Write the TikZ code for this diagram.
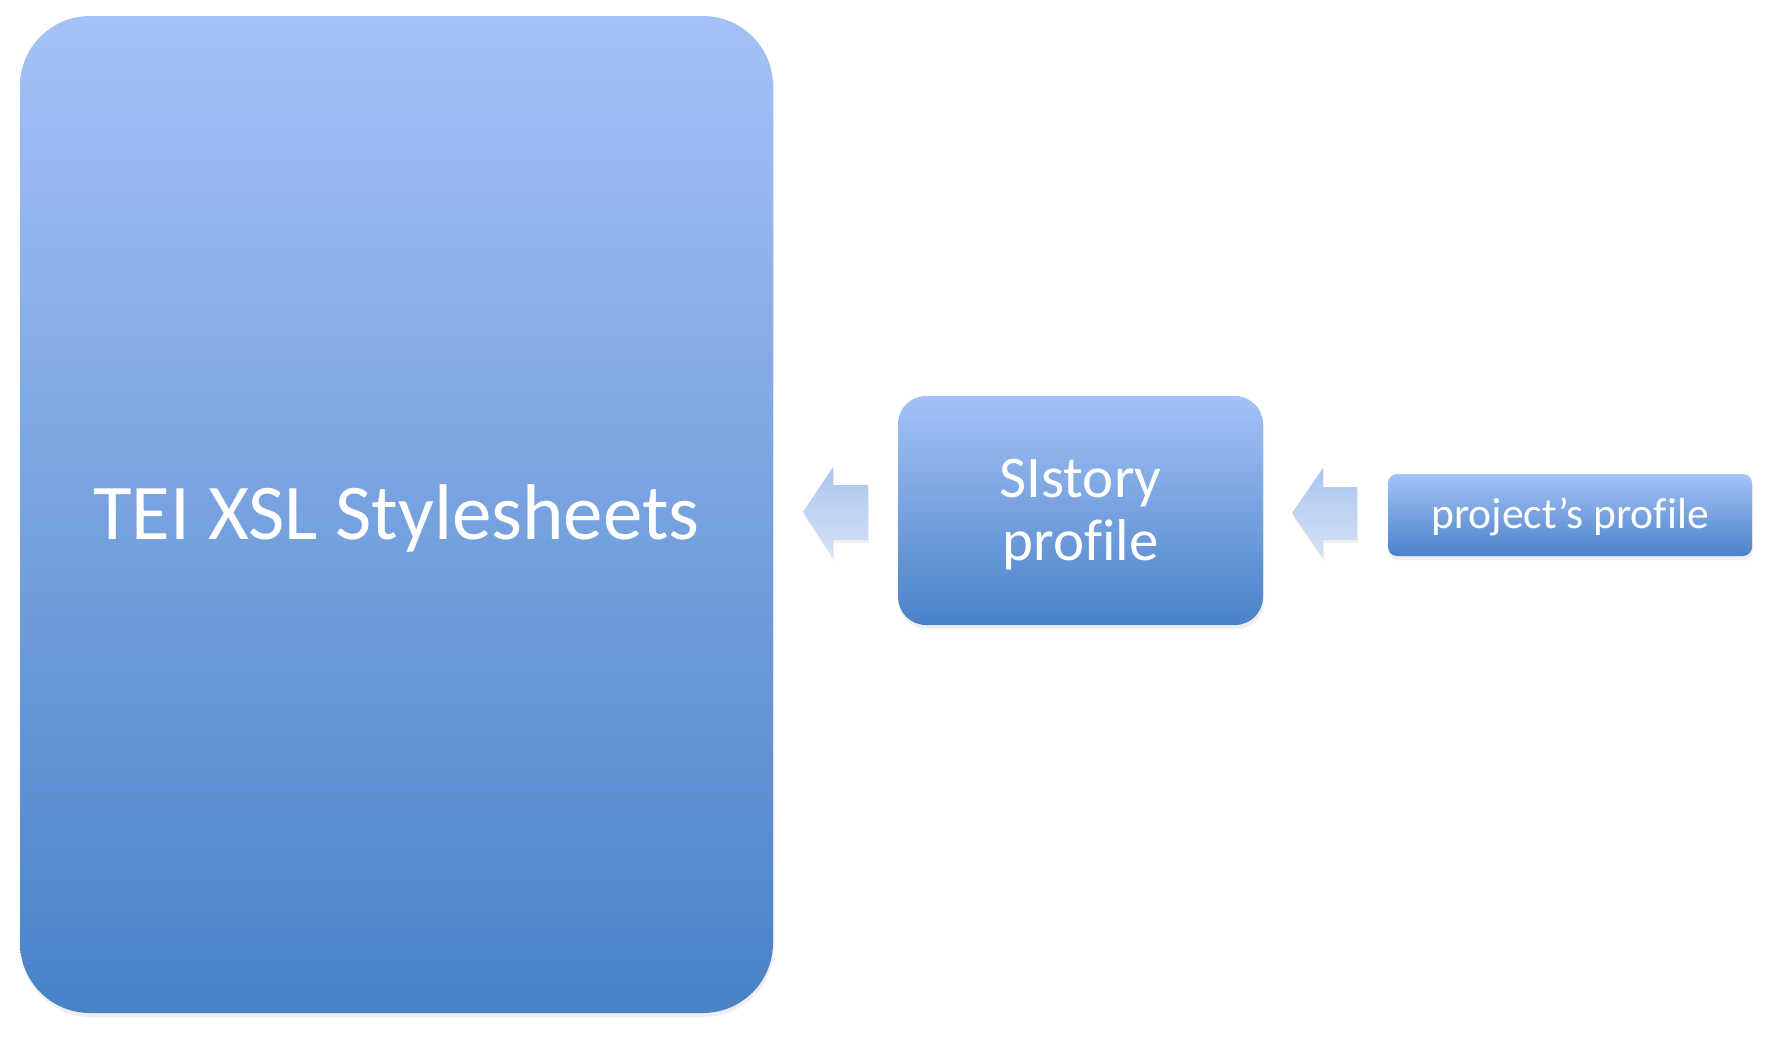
\documentclass[tikz,border=0pt]{standalone}
\usepackage{fontspec}
\setmainfont{Carlito}[Ligatures=NoCommon]
\usetikzlibrary{shadows}
\definecolor{boxtop}{HTML}{A4C2F7}
\definecolor{boxbot}{HTML}{4A82C8}
\definecolor{arrtop}{HTML}{AAC4F0}
\definecolor{arrbot}{HTML}{D6E2F5}
\tikzset{
  blockbox/.style={rectangle, top color=boxtop, bottom color=boxbot, draw=none,
    text=white, align=center, inner sep=0pt,
    drop shadow={opacity=0.13, shadow xshift=1pt, shadow yshift=-4pt}},
  blockarrow/.style={top color=arrtop, bottom color=arrbot, draw=none,
    drop shadow={opacity=0.12, shadow xshift=1pt, shadow yshift=-3pt}}
}
\begin{document}
\begin{tikzpicture}[x=1pt,y=-1pt]
\useasboundingbox (0,0) rectangle (1770,1044);
\node[blockbox, minimum width=753pt, minimum height=997pt, rounded corners=70pt,
  font=\fontsize{79}{90}\selectfont, text depth=0pt] (tei) at (396.5,514.5) {};
\node[text=white, font=\fontsize{79}{90}\selectfont, inner sep=0pt] (teitext) at (396.5,518) {TEI XSL Stylesheets};
\node[blockbox, minimum width=365pt, minimum height=229pt, rounded corners=28pt] (sis) at (1080.5,510.5) {};
\node[text=white, align=center, font=\fontsize{59}{63}\selectfont, inner sep=0pt] (sistext) at (1080.5,515) {SIstory\\profile};
\node[blockbox, minimum width=364pt, minimum height=82pt, rounded corners=9pt] (proj) at (1570,515) {};
\node[text=white, font=\fontsize{43.6}{50}\selectfont, inner sep=0pt] (projtext) at (1570,517) {project’s profile};
% block arrows
\path[blockarrow] (803,512) -- (833,467) -- (833,485) -- (868,485) -- (868,540) -- (833,540) -- (833,558) -- cycle;
\path[blockarrow] (1292,513) -- (1323,468) -- (1323,487) -- (1357,487) -- (1357,540) -- (1323,540) -- (1323,558) -- cycle;
\end{tikzpicture}
\end{document}
